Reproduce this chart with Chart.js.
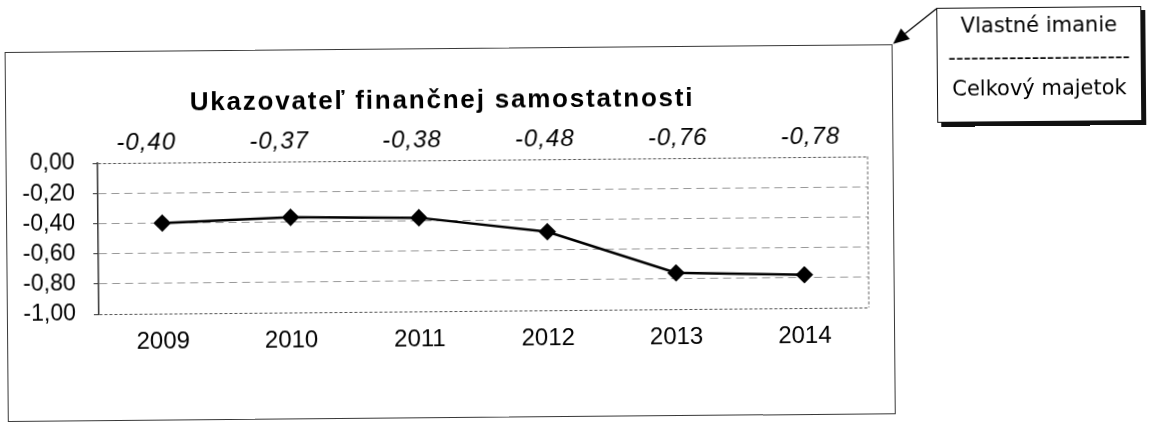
<!DOCTYPE html>
<html>
<head>
<meta charset="utf-8">
<script src="https://cdn.jsdelivr.net/npm/chart.js@4.4.1/dist/chart.umd.min.js"></script>
<style>
  html, body { margin: 0; padding: 0; background: #fff; overflow: hidden; }
  /* the scanned original sits slightly rotated */
  #page { position: relative; width: 1150px; height: 422px; transform: rotate(-0.5deg); transform-origin: 575px 211px; }
  #frame { position: absolute; left: 6px; top: 47px; width: 888px; height: 370px; border: 1.5px solid #3a3a3a; box-sizing: border-box; }
  #chart { position: absolute; left: 0; top: 0; }
  #note { position: absolute; left: 938px; top: 11px; width: 205px; height: 115px; border: 1.5px solid #111; box-sizing: border-box;
          box-shadow: 4px 4px 0 #111; background: #fff; font-family: 'DejaVu Sans', sans-serif; font-size: 21px; color: #000; }
  #note div { position: absolute; left: 0; right: 0; height: 30px; line-height: 30px; text-align: center; white-space: nowrap; }
  #arrow { position: absolute; left: 0; top: 0; }
</style>
</head>
<body>
<div id="page">
  <div id="frame"></div>
  <canvas id="chart" width="1150" height="422"></canvas>
  <svg id="arrow" width="1150" height="422">
    <line x1="938" y1="12" x2="906" y2="37" stroke="#000" stroke-width="1.2"/>
    <polygon points="894.5,46.8 911.3,42.1 902.5,31.3" fill="#000"/>
  </svg>
  <div id="note">
    <div style="top:1.5px">Vlastné imanie</div>
    <div style="top:33.5px">------------------------</div>
    <div style="top:64.5px">Celkový majetok</div>
  </div>
</div>

<script>
// ── Data ──────────────────────────────────────────────────────────────────
const years      = ['2009', '2010', '2011', '2012', '2013', '2014'];
const ratio      = [-0.40, -0.37, -0.38, -0.48, -0.76, -0.78];
const yTickVals  = [0, -0.2, -0.4, -0.6, -0.8, -1.0];
const chartTitle = 'Ukazovateľ finančnej samostatnosti';

const FONT = "'Liberation Sans', Arial, sans-serif";

const fmt = v => v.toFixed(2).replace('.', ',');
const isEdge = v => Math.abs(v) < 1e-9 || Math.abs(v + 1) < 1e-9;

// ── Title + value labels + right plot border ─────────────────────────────
const extras = {
  id: 'extras',
  afterDatasetsDraw(chart) {
    const { ctx, chartArea: { top, bottom, left, right }, scales: { x } } = chart;
    ctx.save();

    // dotted right edge of the plot area
    ctx.beginPath();
    ctx.moveTo(right, top);
    ctx.lineTo(right, bottom);
    ctx.strokeStyle = '#666';
    ctx.lineWidth = 1;
    ctx.setLineDash([3, 2]);
    ctx.stroke();
    ctx.setLineDash([]);

    // title
    ctx.fillStyle = '#000';
    ctx.font = `bold 26px ${FONT}`;
    ctx.letterSpacing = '1.8px';
    ctx.textAlign = 'center';
    ctx.textBaseline = 'middle';
    ctx.fillText(chartTitle, 443, 100);

    // value labels above the plot (printed a little wider apart than the points)
    const mid = (left + right) / 2;
    ctx.font = `italic 24px ${FONT}`;
    ctx.letterSpacing = '1px';
    ratio.forEach((v, i) => {
      const px = x.getPixelForValue(i);
      ctx.fillText(fmt(v), mid + (px - mid) * 1.035 - 4, top - 20);
    });

    ctx.restore();
  },
};

new Chart(document.getElementById('chart'), {
  type: 'line',
  data: {
    labels: years,
    datasets: [{
      data: ratio,
      borderColor: '#000',
      borderWidth: 2.5,
      pointStyle: 'rectRot',
      pointRadius: 7,
      pointBackgroundColor: '#000',
      pointBorderColor: '#000',
      tension: 0,
      clip: false,
    }],
  },
  options: {
    responsive: false,
    animation: false,
    devicePixelRatio: 1,
    layout: { padding: { left: 18, top: 159, right: 282, bottom: 0 } },
    plugins: { legend: { display: false }, tooltip: { enabled: false } },
    scales: {
      x: {
        offset: true,
        grid: { display: false, drawTicks: false },
        border: { display: false },
        ticks: { color: '#000', font: { family: FONT, size: 24 }, padding: 14, maxRotation: 0, autoSkip: false },
        afterFit: s => { s.height = 112; },
      },
      y: {
        min: -1,
        max: 0,
        afterBuildTicks: s => { s.ticks = yTickVals.map(v => ({ value: v })); },
        afterFit: s => { s.width = 80; },
        ticks: { color: '#000', font: { family: FONT, size: 23 }, padding: 18, autoSkip: false, callback: v => fmt(v) },
        grid: {
          color: c => (c.tick && isEdge(c.tick.value)) ? '#555' : '#999',
          lineWidth: 1,
          tickLength: 5,
          tickColor: '#333',
          tickBorderDash: [],
        },
        border: {
          color: '#333',
          width: 1.5,
          dash: c => (c.tick && isEdge(c.tick.value)) ? [3, 2] : [8, 5],
        },
      },
    },
  },
  plugins: [extras],
});
</script>
</body>
</html>
